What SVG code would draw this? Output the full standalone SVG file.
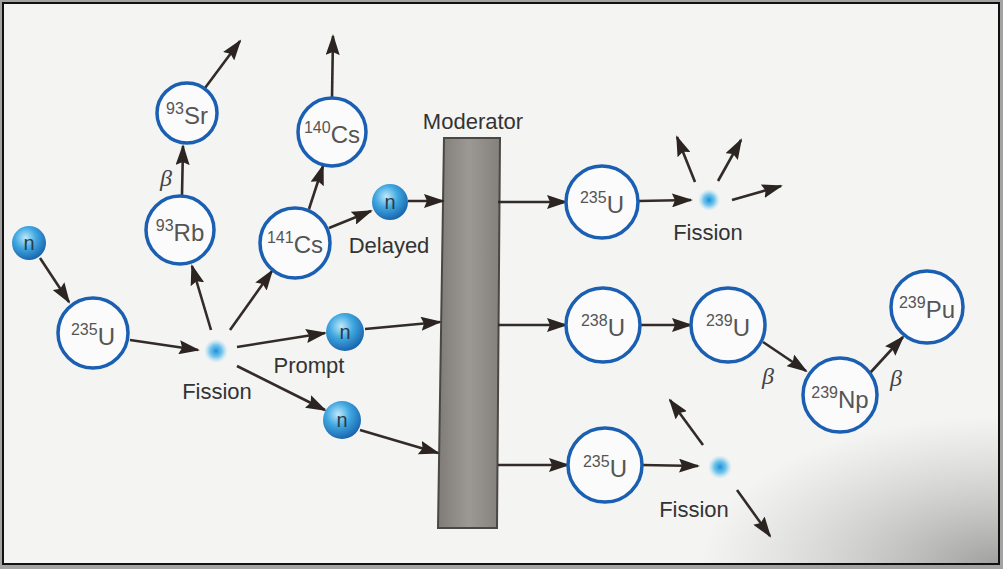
<svg xmlns="http://www.w3.org/2000/svg" width="1003" height="569" viewBox="0 0 1003 569">
<defs>
<style>
.nuc{fill:#fbfbfb;stroke:#1a5fb2;stroke-width:3.5}
.lbl{font-family:"Liberation Sans",Arial,sans-serif;fill:#555;text-anchor:middle;font-size:24px}
.sup{font-size:16px}
.cap{font-family:"Liberation Sans",Arial,sans-serif;fill:#333;font-size:22px}
.beta{font-family:"Liberation Serif","Times New Roman",serif;font-style:italic;fill:#444;font-size:24px;text-anchor:middle}
.nt{font-family:"Liberation Sans",Arial,sans-serif;fill:#2a3a4a;font-size:20px;text-anchor:middle}
.ln{stroke:#322b28;stroke-width:2.6;fill:none;marker-end:url(#ah)}
</style>
<marker id="ah" markerUnits="userSpaceOnUse" markerWidth="22" markerHeight="14" refX="19" refY="7" orient="auto">
<path d="M0,0 L21,7 L0,14 L3,7 z" fill="#2b2421"/>
</marker>
<radialGradient id="ng" cx="0.4" cy="0.35" r="0.7">
<stop offset="0" stop-color="#bfe9fb"/>
<stop offset="0.45" stop-color="#3fa7e0"/>
<stop offset="1" stop-color="#155ea8"/>
</radialGradient>
<radialGradient id="fg">
<stop offset="0" stop-color="#1a8fd8"/>
<stop offset="0.5" stop-color="#52b8ea" stop-opacity="0.8"/>
<stop offset="1" stop-color="#9ad6f5" stop-opacity="0"/>
</radialGradient>
<linearGradient id="mg" x1="0" x2="1" y1="0" y2="0">
<stop offset="0" stop-color="#7f7c77"/>
<stop offset="0.5" stop-color="#9c9994"/>
<stop offset="1" stop-color="#84817c"/>
</linearGradient>
<radialGradient id="shade" gradientUnits="userSpaceOnUse" cx="0" cy="0" r="1" gradientTransform="translate(1000 566) scale(300 150)">
<stop offset="0" stop-color="#666" stop-opacity="0.6"/>
<stop offset="0.6" stop-color="#888" stop-opacity="0.25"/>
<stop offset="1" stop-color="#999" stop-opacity="0"/>
</radialGradient>
</defs>
<rect x="0" y="0" width="1003" height="569" fill="#a3a3a3"/>
<rect x="3" y="3" width="996" height="561" fill="#f4f4f2" stroke="#111" stroke-width="2"/>
<rect x="4" y="4" width="994" height="559" fill="url(#shade)"/>

<g id="moderator">
<polygon points="444,138 500,138 497,528 438,528" fill="url(#mg)" stroke="#4a4744" stroke-width="2"/>
<text class="cap" x="473" y="129" text-anchor="middle">Moderator</text>
</g>

<g id="connectors">
<line class="ln" x1="40" y1="258" x2="69" y2="302"/>
<line class="ln" x1="130" y1="340" x2="198" y2="350"/>
<line class="ln" x1="211" y1="330" x2="192" y2="266"/>
<line class="ln" x1="230" y1="330" x2="272" y2="271"/>
<line class="ln" x1="237" y1="347" x2="325" y2="333"/>
<line class="ln" x1="237" y1="366" x2="325" y2="410"/>
<line class="ln" x1="365" y1="329" x2="440" y2="322"/>
<line class="ln" x1="360" y1="430" x2="438" y2="453"/>
<line class="ln" x1="182" y1="195" x2="183" y2="146"/>
<line class="ln" x1="205" y1="88" x2="240" y2="41"/>
<line class="ln" x1="309" y1="209" x2="323" y2="166"/>
<line class="ln" x1="332" y1="98" x2="333" y2="36"/>
<line class="ln" x1="329" y1="228" x2="371" y2="211"/>
<line class="ln" x1="408" y1="201" x2="443" y2="201"/>
<line class="ln" x1="498" y1="202" x2="566" y2="202"/>
<line class="ln" x1="638" y1="201" x2="691" y2="200"/>
<line class="ln" x1="695" y1="182" x2="677" y2="137"/>
<line class="ln" x1="718" y1="181" x2="741" y2="140"/>
<line class="ln" x1="732" y1="200" x2="781" y2="186"/>
<line class="ln" x1="498" y1="325" x2="566" y2="325"/>
<line class="ln" x1="640" y1="325" x2="691" y2="325"/>
<line class="ln" x1="763" y1="342" x2="806" y2="371"/>
<line class="ln" x1="870" y1="373" x2="903" y2="337"/>
<line class="ln" x1="498" y1="465" x2="568" y2="465"/>
<line class="ln" x1="642" y1="465" x2="698" y2="466"/>
<line class="ln" x1="703" y1="445" x2="670" y2="400"/>
<line class="ln" x1="737" y1="490" x2="770" y2="536"/>
</g>

<g id="n-in">
<circle cx="29" cy="243" r="17" fill="url(#ng)"/>
<text class="nt" x="29" y="250">n</text>
</g>
<g id="u235-left">
<circle class="nuc" cx="93" cy="333" r="35"/>
<text class="lbl" x="93" y="345"><tspan class="sup" dy="-10">235</tspan><tspan dy="10">U</tspan></text>
</g>
<g id="fission-left">
<circle cx="216" cy="351" r="12" fill="url(#fg)"/>
<text class="cap" x="217" y="399" text-anchor="middle">Fission</text>
</g>
<g id="rb93">
<circle class="nuc" cx="180" cy="230" r="34"/>
<text class="lbl" x="180" y="241"><tspan class="sup" dy="-10">93</tspan><tspan dy="10">Rb</tspan></text>
</g>
<g id="beta1"><text class="beta" x="166" y="186">β</text></g>
<g id="sr93">
<circle class="nuc" cx="187" cy="113" r="30"/>
<text class="lbl" x="187" y="124"><tspan class="sup" dy="-10">93</tspan><tspan dy="10">Sr</tspan></text>
</g>
<g id="cs141">
<circle class="nuc" cx="295" cy="243" r="35"/>
<text class="lbl" x="295" y="253"><tspan class="sup" dy="-10">141</tspan><tspan dy="10">Cs</tspan></text>
</g>
<g id="cs140">
<circle class="nuc" cx="332" cy="132" r="34"/>
<text class="lbl" x="332" y="143"><tspan class="sup" dy="-10">140</tspan><tspan dy="10">Cs</tspan></text>
</g>
<g id="n-delayed">
<circle cx="390" cy="202" r="18" fill="url(#ng)"/>
<text class="nt" x="390" y="209">n</text>
<text class="cap" x="389" y="253" text-anchor="middle">Delayed</text>
</g>
<g id="n-prompt1">
<circle cx="345" cy="332" r="19" fill="url(#ng)"/>
<text class="nt" x="345" y="339">n</text>
<text class="cap" x="309" y="373" text-anchor="middle">Prompt</text>
</g>
<g id="n-prompt2">
<circle cx="342" cy="420" r="19" fill="url(#ng)"/>
<text class="nt" x="342" y="427">n</text>
</g>

<g id="u235-top">
<circle class="nuc" cx="602" cy="202" r="36"/>
<text class="lbl" x="602" y="213"><tspan class="sup" dy="-10">235</tspan><tspan dy="10">U</tspan></text>
</g>
<g id="fission-top">
<circle cx="709" cy="200" r="11" fill="url(#fg)"/>
<text class="cap" x="708" y="240" text-anchor="middle">Fission</text>
</g>
<g id="u238">
<circle class="nuc" cx="603" cy="325" r="37"/>
<text class="lbl" x="603" y="336"><tspan class="sup" dy="-10">238</tspan><tspan dy="10">U</tspan></text>
</g>
<g id="u239">
<circle class="nuc" cx="728" cy="325" r="37"/>
<text class="lbl" x="728" y="336"><tspan class="sup" dy="-10">239</tspan><tspan dy="10">U</tspan></text>
</g>
<g id="beta2"><text class="beta" x="768" y="384">β</text></g>
<g id="np239">
<circle class="nuc" cx="840" cy="395" r="37"/>
<text class="lbl" x="840" y="408"><tspan class="sup" dy="-10">239</tspan><tspan dy="10">Np</tspan></text>
</g>
<g id="beta3"><text class="beta" x="896" y="386">β</text></g>
<g id="pu239">
<circle class="nuc" cx="927" cy="307" r="36"/>
<text class="lbl" x="927" y="318"><tspan class="sup" dy="-10">239</tspan><tspan dy="10">Pu</tspan></text>
</g>
<g id="u235-bottom">
<circle class="nuc" cx="605" cy="465" r="37"/>
<text class="lbl" x="605" y="477"><tspan class="sup" dy="-10">235</tspan><tspan dy="10">U</tspan></text>
</g>
<g id="fission-bottom">
<circle cx="720" cy="467" r="12" fill="url(#fg)"/>
<text class="cap" x="694" y="517" text-anchor="middle">Fission</text>
</g>
</svg>
